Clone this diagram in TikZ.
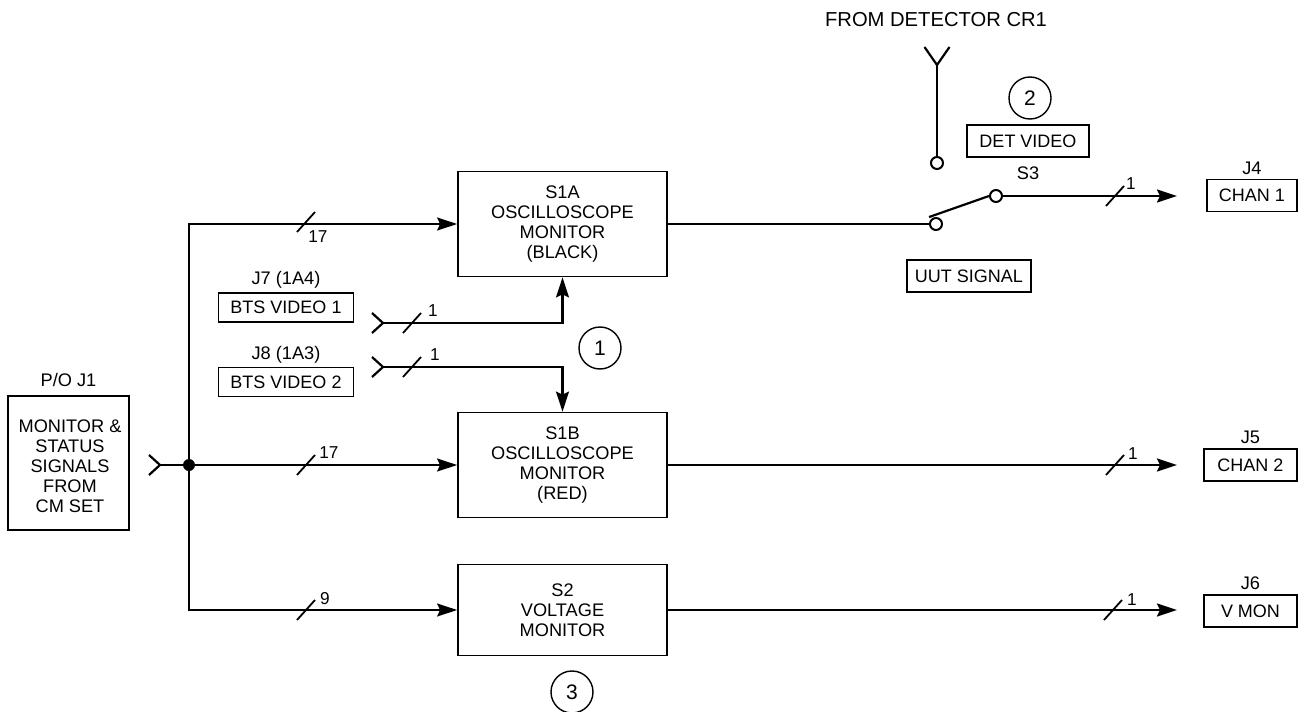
\documentclass[tikz,border=0pt]{standalone}
\usepackage{fontspec}
\setmainfont{Liberation Sans}
\usetikzlibrary{positioning,arrows.meta}
\tikzset{
  blockbox/.style={draw,line width=0.9pt,minimum width=104.5pt,minimum height=52.5pt,inner sep=0pt,align=center,font=\fontsize{9.1}{10}\selectfont},
  tagbox/.style={draw,line width=0.9pt,minimum height=16pt,inner sep=0pt,font=\fontsize{9}{10}\selectfont},
  lbl/.style={inner sep=0pt,font=\fontsize{9.1}{10}\selectfont},
  numlbl/.style={inner sep=0pt,font=\fontsize{8.6}{10}\selectfont},
  wire/.style={line width=1.1pt},
  sig/.style={wire,-{Stealth[length=10pt,width=6.5pt,inset=1.5pt]}},
  term/.style={circle,draw,line width=1pt,fill=white,minimum size=6pt,inner sep=0pt},
  callout/.style={circle,draw,line width=0.7pt,minimum size=21pt,inner sep=0pt,font=\fontsize{10.5}{12}\selectfont},
  bustick/.pic={\draw[line width=0.9pt] (-9,10)--(9,-10);},
  forkin/.pic={\draw[wire] (-11,-10)--(0,0)--(-11,10);},
  forkup/.pic={\draw[wire] (-12.5,-18)--(0,0)--(12.5,-18);}
}

\begin{document}
\begin{tikzpicture}[x=0.5pt,y=-0.5pt]
\useasboundingbox (0,0) rectangle (1298,712);

\node[blockbox,minimum width=60.5pt,minimum height=67pt] (J1) at (68.5,463) {};
\node[inner sep=0pt,align=center,font=\fontsize{9.1}{10}\selectfont] (J1text) at (70,466) {MONITOR \&\\STATUS\\SIGNALS\\FROM\\CM SET};
\node[lbl,above=4pt of J1] (J1name) {P/O J1};

\node[blockbox] (S1A) at (562.5,224) {S1A\\OSCILLOSCOPE\\MONITOR\\(BLACK)};
\node[blockbox] (S1B) at (562.5,465) {S1B\\OSCILLOSCOPE\\MONITOR\\(RED)};
\node[blockbox,minimum height=45.5pt] (S2) at (562.5,610) {S2\\VOLTAGE\\MONITOR};

\node[tagbox,minimum width=67.5pt,minimum height=14.5pt] (BTS1) at (286,307.5) {BTS VIDEO 1};
\node[lbl,above=1.5pt of BTS1] (J7name) {J7 (1A4)};
\node[tagbox,minimum width=67.5pt,minimum height=14.5pt] (BTS2) at (286,382) {BTS VIDEO 2};
\node[lbl,above=1.5pt of BTS2] (J8name) {J8 (1A3)};

\node[tagbox,minimum width=61pt] (DET) at (1028,141) {DET VIDEO};
\node[lbl,below=4pt of DET] (S3name) {S3};
\node[tagbox,minimum width=62pt] (UUT) at (969,276) {UUT SIGNAL};

\node[tagbox,minimum width=45pt] (CH1) at (1252,195.5) {CHAN 1};
\node[lbl,above=2pt of CH1] (J4name) {J4};
\node[tagbox,minimum width=46.5pt] (CH2) at (1250.5,465) {CHAN 2};
\node[lbl,above=2pt of CH2] (J5name) {J5};
\node[tagbox,minimum width=46.5pt] (CH3) at (1250.5,611) {V MON};
\node[lbl,above=2pt of CH3] (J6name) {J6};

\node[lbl,font=\fontsize{10.1}{10}\selectfont] (CR1) at (936,20) {FROM DETECTOR CR1};

\node[callout] (c1) at (600,348) {1};
\node[callout] (c2) at (1030,98) {2};
\node[callout] (c3) at (572,692) {3};

% terminals of the switch
\node[term] (T1) at (937,163) {};
\node[term] (T2) at (936,224) {};
\node[term] (T3) at (996,196) {};

\node[circle,fill,minimum size=6pt,inner sep=0pt] (JN) at (189,465) {};

\coordinate (inJ1) at (160,465);
\coordinate (inJ7) at (383,323);
\coordinate (inJ8) at (383,367);
\coordinate (inCR) at (937,65);
\coordinate (o1) at (1177,196);
\coordinate (o2) at (1177,465);
\coordinate (o3) at (1177,610);

\draw[wire] (inJ1)--(JN);
\draw[sig] (JN)--(JN|-S1A.west)--(S1A.west);
\draw[sig] (JN)--(S1B.west);
\draw[sig] (JN)--(JN|-S2.west)--(S2.west);

\draw[sig] (inJ7)-|(S1A.south);
\draw[sig] (inJ8)-|(S1B.north);

\draw[wire] (S1A.east)--(T2.west);
\draw[wire] (inCR)--(T1.north);
\draw[wire] (T2.north west)++(-2,-2)--(T3.west);
\draw[sig] (T3.east)--(o1);
\draw[sig] (S1B.east)--(o2);
\draw[sig] (S2.east)--(o3);

\pic at (inJ1) {forkin};
\pic at (inJ7) {forkin};
\pic at (inJ8) {forkin};
\pic at (inCR) {forkup};

\pic at (306,222) {bustick};
\pic at (306,465) {bustick};
\pic at (306,610) {bustick};
\pic at (412,323) {bustick};
\pic at (412,367) {bustick};
\pic at (1115,196) {bustick};
\pic at (1115,465) {bustick};
\pic at (1113,610) {bustick};

\node[numlbl] (n1) at (318,237) {17};
\node[numlbl] (n2) at (329,453) {17};
\node[numlbl] (n3) at (325,599) {9};
\node[numlbl] (n4) at (433,311) {1};
\node[numlbl] (n5) at (435,355) {1};
\node[numlbl] (n6) at (1131,184) {1};
\node[numlbl] (n7) at (1133,454) {1};
\node[numlbl] (n8) at (1132,600) {1};
\end{tikzpicture}
\end{document}
